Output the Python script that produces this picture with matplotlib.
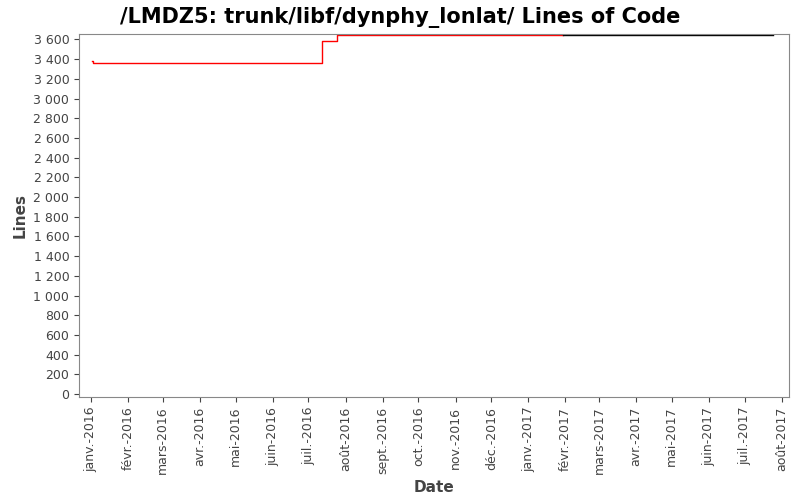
import matplotlib
matplotlib.use("Agg")
import matplotlib.pyplot as plt
import matplotlib.dates as mdates
from matplotlib.ticker import FuncFormatter, MultipleLocator
import datetime as dt

red_dates = ["2016-01-02", "2016-01-03", "2016-07-12", "2016-07-25", "2017-01-30"]
red_values = [3385, 3360, 3580, 3640, 3640]
black_dates = ["2017-01-30", "2017-07-25"]
black_values = [3648, 3648]
month_labels = ["janv.", "févr.", "mars", "avr.", "mai", "juin", "juil.", "août",
                "sept.", "oct.", "nov.", "déc."]

rd = [dt.datetime.fromisoformat(d) for d in red_dates]
bd = [dt.datetime.fromisoformat(d) for d in black_dates]

fig = plt.figure(figsize=(8, 5), dpi=100)
ax = fig.add_axes([79/800, 1-397/500, 710/800, 363/500])
ax.step(rd, red_values, where="post", color="red", lw=1)
ax.step(bd, black_values, where="post", color="black", lw=1)

ax.set_xlim(dt.datetime(2015, 12, 22), dt.datetime(2017, 8, 7))
ax.set_ylim(-30, 3655)
ax.yaxis.set_major_locator(MultipleLocator(200))
ax.yaxis.set_major_formatter(FuncFormatter(lambda v, p: f"{int(v):,}".replace(",", " ")))
ax.xaxis.set_major_locator(mdates.MonthLocator())
ax.xaxis.set_major_formatter(FuncFormatter(
    lambda v, p: f"{month_labels[mdates.num2date(v).month-1]}-{mdates.num2date(v).year}"))
plt.setp(ax.get_xticklabels(), rotation=90)
ax.tick_params(labelsize=9, colors="#444444")
for s in ax.spines.values():
    s.set_color("#888888")
ax.set_xlabel("Date", fontsize=11, fontweight="bold", color="#444444")
ax.set_ylabel("Lines", fontsize=11, fontweight="bold", color="#444444")
fig.suptitle("/LMDZ5: trunk/libf/dynphy_lonlat/ Lines of Code", fontsize=15,
             fontweight="bold", y=0.985)
fig.savefig("out.png")
